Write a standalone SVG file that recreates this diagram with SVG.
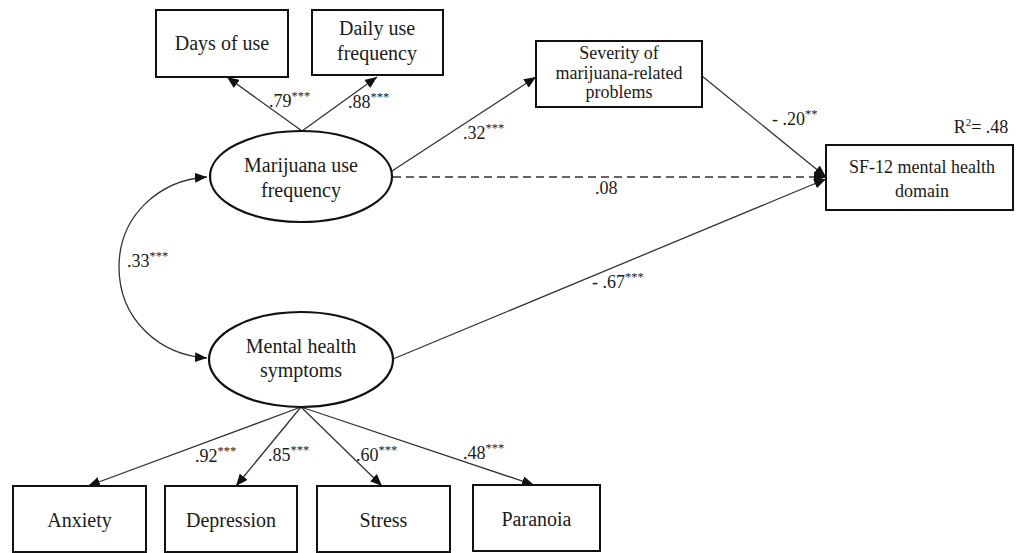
<svg xmlns="http://www.w3.org/2000/svg" width="1019" height="553" viewBox="0 0 1019 553" font-family="'Liberation Serif', 'DejaVu Serif', serif">
<style>
.box{fill:#fff;stroke:#111;stroke-width:2}
.ell{fill:#fff;stroke:#111;stroke-width:2.2}
text{font-family:'Liberation Serif','DejaVu Serif',serif;fill:#1a1a1a}
.t{font-size:20px;text-anchor:middle}
.ts{font-size:18px;text-anchor:middle}
.lab{font-size:18px}
.sup{font-size:12.5px}
.c{fill:none;stroke:#333;stroke-width:1.3}
.d{stroke-dasharray:8,5}
</style>
<defs>
<marker id="ah" viewBox="0 0 12 10" refX="12" refY="5" markerWidth="12" markerHeight="10" markerUnits="userSpaceOnUse" orient="auto-start-reverse">
<path d="M0,0 L12,5 L0,10 z" fill="#111"/>
</marker>
</defs>
<g id="connectors">
<line class="c" x1="302" y1="131" x2="227" y2="77" marker-end="url(#ah)"/>
<line class="c" x1="302" y1="131" x2="377" y2="77" marker-end="url(#ah)"/>
<line class="c" x1="392" y1="171" x2="536" y2="77" marker-end="url(#ah)"/>
<line class="c d" x1="393" y1="177" x2="826" y2="177" marker-end="url(#ah)"/>
<line class="c" x1="702" y1="76" x2="826" y2="177" marker-end="url(#ah)"/>
<line class="c" x1="393" y1="359" x2="826" y2="179" marker-end="url(#ah)"/>
<path class="c" d="M207,177 C160,180 119,215 119,267 C119,320 160,355 207,358" marker-start="url(#ah)" marker-end="url(#ah)"/>
<line class="c" x1="301" y1="407" x2="88" y2="486" marker-end="url(#ah)"/>
<line class="c" x1="301" y1="407" x2="236" y2="486" marker-end="url(#ah)"/>
<line class="c" x1="301" y1="407" x2="382" y2="486" marker-end="url(#ah)"/>
<line class="c" x1="301" y1="407" x2="534" y2="485" marker-end="url(#ah)"/>
<text class="lab" x="269" y="107">.79<tspan class="sup" dy="-7">***</tspan></text>
<text class="lab" x="348" y="108">.88<tspan class="sup" dy="-7">***</tspan></text>
<text class="lab" x="463" y="139">.32<tspan class="sup" dy="-7">***</tspan></text>
<text class="lab" x="772" y="125">- .20<tspan class="sup" dy="-7">**</tspan></text>
<text class="lab" x="595" y="194">.08</text>
<text class="lab" x="592" y="288">- .67<tspan class="sup" dy="-7">***</tspan></text>
<text class="lab" x="127" y="267">.33<tspan class="sup" dy="-7">***</tspan></text>
<text class="lab" x="195" y="462">.92<tspan class="sup" dy="-7">***</tspan></text>
<text class="lab" x="268" y="461">.85<tspan class="sup" dy="-7">***</tspan></text>
<text class="lab" x="356" y="461">.60<tspan class="sup" dy="-7">***</tspan></text>
<text class="lab" x="463" y="459">.48<tspan class="sup" dy="-7">***</tspan></text>
</g>
<g id="days-of-use">
<rect class="box" x="156" y="10" width="132" height="67"/>
<text class="t" x="222" y="50">Days of use</text>
</g>
<g id="daily-use-frequency">
<rect class="box" x="312" y="10" width="131" height="65"/>
<text class="t" x="377" y="35">Daily use</text>
<text class="t" x="377" y="60">frequency</text>
</g>
<g id="marijuana-use-frequency">
<ellipse class="ell" cx="301" cy="176.5" rx="91" ry="45.5"/>
<text class="t" x="301" y="172">Marijuana use</text>
<text class="t" x="301" y="197">frequency</text>
</g>
<g id="severity">
<rect class="box" x="536" y="41" width="166" height="66"/>
<text class="ts" x="619" y="59">Severity of</text>
<text class="ts" x="619" y="79">marijuana-related</text>
<text class="ts" x="619" y="98">problems</text>
</g>
<g id="sf12">
<rect class="box" x="826" y="145" width="187" height="65"/>
<text class="ts" x="922" y="173">SF-12 mental health</text>
<text class="ts" x="922" y="197">domain</text>
<text class="ts" x="981" y="133">R<tspan font-size="11" dy="-7">2</tspan><tspan dy="7">= .48</tspan></text>
</g>
<g id="mental-health-symptoms">
<ellipse class="ell" cx="301" cy="359.5" rx="92" ry="47.5"/>
<text class="t" x="301" y="353">Mental health</text>
<text class="t" x="301" y="377">symptoms</text>
</g>
<g id="anxiety">
<rect class="box" x="13" y="486" width="133" height="66"/>
<text class="t" x="79.5" y="527">Anxiety</text>
</g>
<g id="depression">
<rect class="box" x="165" y="486" width="132" height="66"/>
<text class="t" x="231" y="527">Depression</text>
</g>
<g id="stress">
<rect class="box" x="317" y="486" width="133" height="66"/>
<text class="t" x="383.5" y="527">Stress</text>
</g>
<g id="paranoia">
<rect class="box" x="473" y="485" width="127" height="66"/>
<text class="t" x="536.5" y="526">Paranoia</text>
</g>
</svg>
